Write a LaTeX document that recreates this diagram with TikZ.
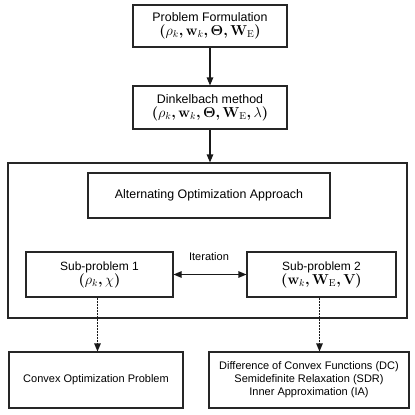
\documentclass[tikz,border=0pt]{standalone}
\usepackage{amsmath,bm}
\usepackage[no-math]{fontspec}
\setmainfont{Liberation Sans}
\usetikzlibrary{arrows.meta}
\tikzset{
  box/.style={draw=black!85, line width=1.1pt, inner sep=0pt, align=center,
              font=\fontsize{11}{13}\selectfont},
  bigtext/.style={font=\fontsize{12.4}{14}\selectfont},
  midtext/.style={font=\fontsize{12}{14}\selectfont},
  conn/.style={draw=black!90, line width=1.1pt, -{Triangle[length=8pt,width=6.5pt]}},
  dconn/.style={conn, dash pattern=on 2pt off 1pt},
  biconn/.style={draw=black!90, line width=1.1pt, {Triangle[length=8pt,width=6.5pt]}-{Triangle[length=8pt,width=6.5pt]}},
  lbl/.style={font=\fontsize{11}{13}\selectfont, inner sep=0pt}
}
\newcommand{\mfont}{\fontsize{14}{15}\selectfont}
\begin{document}
\begin{tikzpicture}[x=1pt,y=-1pt]
\useasboundingbox (0,0) rectangle (415,415);
\node[box, bigtext, minimum width=154pt, minimum height=42pt] (pf) at (210,26)
  {Problem Formulation\\[0pt] {\mfont$\bm{(}\rho_{k}\bm{,}\mathbf{w}_{k}\bm{,}\bm{\Theta}\bm{,}\mathbf{W}_{\mathrm{E}}\bm{)}$}};
\node[box, bigtext, minimum width=154pt, minimum height=43pt] (dk) at (210,107.5)
  {Dinkelbach method\\[0pt] {\mfont$\bm{(}\rho_{k}\bm{,}\mathbf{w}_{k}\bm{,}\bm{\Theta}\bm{,}\mathbf{W}_{\mathrm{E}}\bm{,}\lambda\bm{)}$}};
\node[box, minimum width=399pt, minimum height=155pt] (outer) at (207.5,240.5) {};
\node[box, bigtext, minimum width=242pt, minimum height=45pt] (ao) at (209,195.5)
  {Alternating Optimization Approach};
\node[box, midtext, minimum width=147pt, minimum height=45pt] (s1) at (99.5,274.5)
  {Sub-problem 1\\[0pt] {\mfont$\bm{(}\rho_{k}\bm{,}\chi\bm{)}$}};
\node[box, midtext, minimum width=149pt, minimum height=45pt] (s2) at (321.5,274.5)
  {Sub-problem 2\\[0pt] {\mfont$\bm{(}\mathbf{w}_{k}\bm{,}\mathbf{W}_{\mathrm{E}}\bm{,}\mathbf{V}\bm{)}$}};
\node[box, minimum width=174pt, minimum height=56pt] (cv) at (96,380)
  {Convex Optimization Problem};
\node[box, minimum width=200pt, minimum height=56pt] (mt) at (309,380)
  {Difference of Convex Functions (DC)\\Semidefinite Relaxation (SDR)\\Inner Approximation (IA)};
\node[lbl] (it) at (209,257) {Iteration};
\draw[conn] (pf.south) -- (dk.north);
\draw[conn] (dk.south) -- (dk.south |- outer.north);
\draw[biconn] (s1.east) -- (s2.west);
\draw[dconn] ([xshift=-2pt]s1.south) -- ([xshift=-2pt]s1.south |- cv.north);
\draw[dconn] ([xshift=-2pt]s2.south) -- ([xshift=-2pt]s2.south |- mt.north);
\end{tikzpicture}
\end{document}
